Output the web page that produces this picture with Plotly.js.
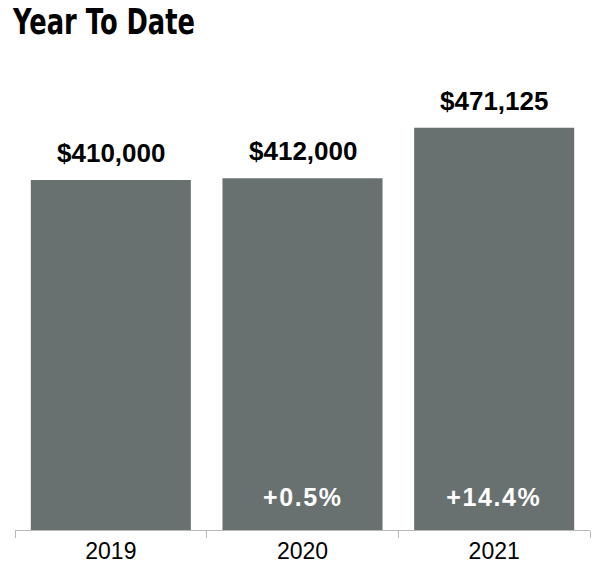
<!DOCTYPE html>
<html>
<head>
<meta charset="utf-8">
<script src="https://cdn.plot.ly/plotly-3.0.1.min.js"></script>
<style>
html,body{margin:0;padding:0;background:#fff;}
#chart{width:592px;height:566px;}
</style>
</head>
<body>
<div id="chart"></div>
<script>
const years = ["2019", "2020", "2021"];
const values = [410000, 412000, 471125];
const valueLabels = ["$410,000", "$412,000", "$471,125"];
const changeLabels = ["", "+0.5%", "+14.4%"];

const barColor = "#687170";

const annotations = [];
years.forEach((y, i) => {
  annotations.push({
    x: i, y: values[i], xref: "x", yref: "y",
    text: "<b>" + valueLabels[i] + "</b>",
    showarrow: false, yanchor: "bottom", yshift: 10,
    font: {family: "Liberation Sans, Arial, sans-serif", size: 26, color: "#000"}
  });
  if (changeLabels[i]) {
    annotations.push({
      x: i, y: 0, xref: "x", yref: "y",
      text: "<b>" + changeLabels[i] + "</b>",
      showarrow: false, yanchor: "bottom", yshift: 17,
      font: {family: "Liberation Sans, Arial, sans-serif", size: 25, color: "#fff"}
    });
  }
});

const data = [{
  type: "bar", x: years, y: values,
  marker: {color: barColor},
  hoverinfo: "none"
}];

const layout = {
  width: 592, height: 566,
  margin: {l: 15, r: 2, t: 60, b: 36, pad: 0},
  paper_bgcolor: "#fff", plot_bgcolor: "#fff",
  bargap: 0.165,
  showlegend: false,
  title: {
    text: "<b>Year To Date</b>",
    x: 13 / 592, xref: "container", xanchor: "left", y: 0.984, yref: "container", yanchor: "top",
    pad: {l: 0, t: 0},
    font: {family: "'DejaVu Sans', sans-serif", size: 36, color: "#000"}
  },
  xaxis: {
    type: "category",
    range: [-0.5, 2.5],
    showline: true, linecolor: "#b8b8b8", linewidth: 1,
    ticks: "outside", tickson: "boundaries", ticklen: 7, tickcolor: "#b8b8b8", tickwidth: 1,
    showgrid: false, zeroline: false,
    tickfont: {family: "Liberation Sans, Arial, sans-serif", size: 23, color: "#000"},
    fixedrange: true
  },
  yaxis: {
    range: [0, 550560],
    visible: false, showgrid: false, zeroline: false, fixedrange: true
  },
  annotations: annotations
};

Plotly.newPlot("chart", data, layout, {displayModeBar: false, staticPlot: true}).then(gd => {
  // condensed look for the title
  const t = gd.querySelector(".gtitle");
  if (t) {
    t.setAttribute("textLength", "182");
    t.setAttribute("lengthAdjust", "spacingAndGlyphs");
  }
  // slightly wider tracking for the percentage labels
  gd.querySelectorAll(".annotation-text").forEach(el => {
    if (el.textContent.trim().startsWith("+")) {
      el.style.letterSpacing = "1.6px";
    }
  });
});
</script>
</body>
</html>
